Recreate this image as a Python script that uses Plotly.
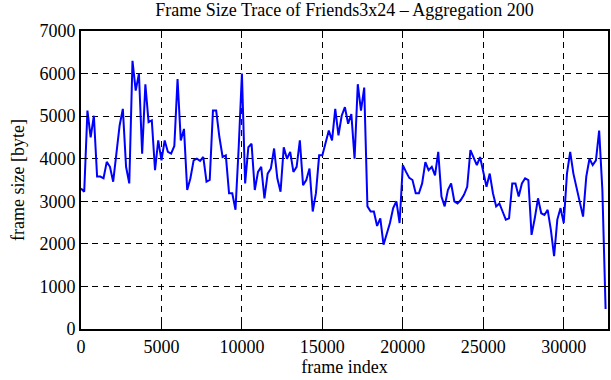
import plotly.graph_objects as go

# Aggregated frame sizes (every 200 frames)
step = 200
frame_size = [
    3300, 3225, 5130, 4500, 5010, 3580, 3580, 3540, 3925, 3810,
    3460, 4120, 4780, 5170, 3810, 3420, 6300, 5600, 6000, 4120,
    5750, 4860, 4900, 3730, 4430, 3960, 4430, 4160, 4120, 4300,
    5870, 4430, 4700, 3265, 3540, 3960, 4000, 3950, 4040, 3460,
    3500, 5130, 5130, 4510, 4040, 4080, 3190, 3190, 2800, 4270,
    6000, 3420, 4270, 4350, 3265, 3690, 3810, 3070, 3650, 3770,
    4240, 3540, 3225, 4270, 4000, 4160, 3690, 3810, 4430, 3380,
    3500, 3770, 2760, 3190, 4080, 4080, 4390, 4660, 4430, 5170,
    4550, 5010, 5210, 4820, 5050, 4000, 5750, 5130, 5670, 2880,
    2760, 2760, 2420, 2600, 1980, 2250, 2490, 2840, 3000, 2490,
    3850, 3690, 3550, 3500, 3190, 3190, 3420, 3920, 3730, 3810,
    3610, 4160, 3110, 2880, 3265, 3420, 3000, 2950, 3030, 3150,
    3340, 4200, 4000, 3850, 4040, 3650, 3340, 3650, 3190, 2880,
    2950, 2760, 2570, 2600, 3420, 3420, 3110, 3420, 3540, 3500,
    2210, 2600, 3070, 2720, 2680, 2800, 2330, 1710, 2570, 2840,
    2490, 3650, 4160, 3650, 3300, 2920, 2640, 3580, 4000, 3850,
    3960, 4660, 3265, 470,
]
frame_index = [i * step for i in range(len(frame_size))]

x_ticks = [0, 5000, 10000, 15000, 20000, 25000, 30000]
y_ticks = [0, 1000, 2000, 3000, 4000, 5000, 6000, 7000]

title_text = "Frame Size Trace of Friends3x24 \u2013 Aggregation 200"
x_label = "frame index"
y_label = "frame size [byte]"

FONT = "Liberation Serif"

fig = go.Figure()
fig.add_trace(go.Scatter(
    x=frame_index, y=frame_size, mode="lines",
    line=dict(color="#0000ff", width=2),
    showlegend=False, hoverinfo="skip",
))

axis_common = dict(
    showline=True, linecolor="black", linewidth=2, mirror="allticks",
    ticks="inside", ticklen=7, tickwidth=1, tickcolor="black",
    showgrid=True, gridcolor="black", gridwidth=1, griddash="6px,5px",
    zeroline=False, automargin=False,
    tickfont=dict(family=FONT, size=18, color="black"),
)

fig.update_layout(
    width=611, height=380,
    margin=dict(l=81, r=3, t=31, b=51),
    paper_bgcolor="white", plot_bgcolor="white",
    font=dict(family=FONT, size=18, color="black"),
    title=dict(text=title_text, x=(81 + 608) / 2 / 611, xanchor="center",
               y=1 - 10 / 380, yanchor="middle", yref="container",
               font=dict(family=FONT, size=18, color="black")),
    xaxis=dict(range=[0, 32750], tickvals=x_ticks,
               ticktext=[str(v) for v in x_ticks],
               title=dict(text=x_label, standoff=1,
                          font=dict(family=FONT, size=18)),
               **axis_common),
    yaxis=dict(range=[0, 7000], tickvals=y_ticks,
               ticktext=[str(v) for v in y_ticks],
               title=dict(text=y_label, standoff=10,
                          font=dict(family=FONT, size=18)),
               **axis_common),
)

fig.write_html("out.html",
               config={"displayModeBar": False, "staticPlot": True},
               post_script="document.body.style.margin='0';"
                           "document.body.style.overflow='hidden';")
